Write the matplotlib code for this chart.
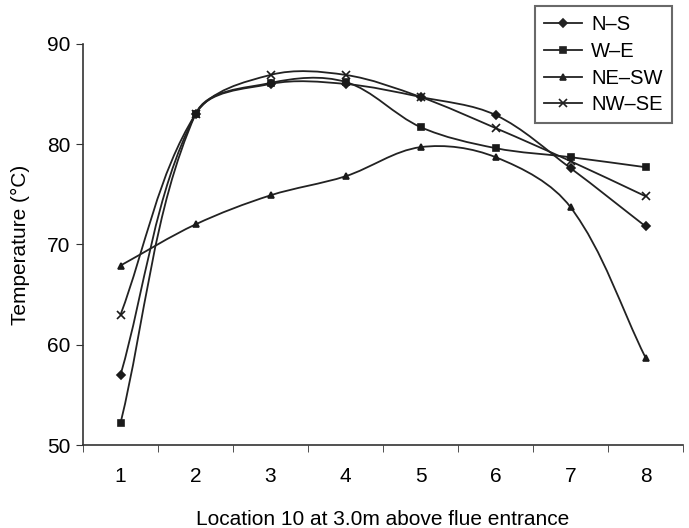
import numpy as np
import matplotlib.pyplot as plt
from matplotlib.path import Path
from matplotlib.patches import PathPatch
from matplotlib.lines import Line2D

plt.rcParams['font.family'] = ['Liberation Sans', 'DejaVu Sans']

locations = [1, 2, 3, 4, 5, 6, 7, 8]
ns = [57.0, 83.0, 86.0, 86.0, 84.7, 82.9, 77.6, 71.8]
we = [52.2, 83.0, 86.1, 86.2, 81.7, 79.6, 78.7, 77.7]
nesw = [67.9, 72.0, 74.9, 76.8, 79.7, 78.7, 73.7, 58.7]
nwse = [63.0, 83.0, 86.9, 86.9, 84.7, 81.6, 78.3, 74.8]

names = ['N\u2013S', 'W\u2013E', 'NE\u2013SW', 'NW\u2013SE']
series = [ns, we, nesw, nwse]
markers = ['D', 's', '^', 'x']
msizes = [4.5, 5, 5, 6]

# rough pixel size of one x step and one degree, so the smoothing
# works on what the eye sees rather than raw data units
SX, SY = 75.0, 10.0


def smooth_path(x, y):
    # smoothed line: cubic bezier, tangents from neighbours,
    # handle length tied to the length of each segment
    p = np.column_stack([np.asarray(x, float) * SX, np.asarray(y, float) * SY])
    n = len(p)
    tang = np.zeros_like(p)
    for i in range(n):
        d = p[min(i + 1, n - 1)] - p[max(i - 1, 0)]
        tang[i] = d / np.hypot(*d)
    verts = [p[0]]
    codes = [Path.MOVETO]
    for i in range(n - 1):
        seg = np.hypot(*(p[i + 1] - p[i]))
        c1 = p[i] + tang[i] * seg / 3
        c2 = p[i + 1] - tang[i + 1] * seg / 3
        verts += [c1, c2, p[i + 1]]
        codes += [Path.CURVE4] * 3
    verts = np.array(verts) / [SX, SY]
    return Path(verts, codes)


fig = plt.figure(figsize=(6.89, 5.28), dpi=100)
ax = fig.add_axes([0.1205, 0.157, 0.871, 0.76])

for vals, m, ms in zip(series, markers, msizes):
    ax.add_patch(PathPatch(smooth_path(locations, vals), fill=False,
                           edgecolor='#222222', lw=1.3))
    ax.plot(locations, vals, linestyle='none', marker=m, ms=ms,
            color='#1a1a1a', mew=1.2)

ax.set_xlim(0.5, 8.5)
ax.set_ylim(50, 90)
ax.set_yticks([50, 60, 70, 80, 90])
ax.set_xticks(locations)
ax.set_xticks(np.arange(0.5, 8.6, 1), minor=True)
ax.tick_params(axis='x', which='major', length=0, pad=16, labelsize=15)
ax.tick_params(axis='x', which='minor', length=5, direction='out', color='#333333')
ax.tick_params(axis='y', length=5, direction='out', labelsize=15, pad=4,
               color='#333333')
for s in ['top', 'right']:
    ax.spines[s].set_visible(False)
for s in ['left', 'bottom']:
    ax.spines[s].set_color('#333333')
    ax.spines[s].set_linewidth(1.2)

ax.set_ylabel('Temperature (\u00b0C)', fontsize=15, labelpad=12)
ax.set_xlabel('Location 10 at 3.0m above flue entrance', fontsize=15, labelpad=17)

handles = [Line2D([], [], color='#222222', lw=1.3, marker=m, ms=ms, mew=1.2)
           for m, ms in zip(markers, msizes)]
leg = fig.legend(handles, names, loc='upper left', bbox_to_anchor=(0.776, 0.988),
                 fontsize=14.5, frameon=True, fancybox=False, handlelength=1.9,
                 handletextpad=0.45, labelspacing=0.38, borderpad=0.45,
                 borderaxespad=0)
leg.get_frame().set_edgecolor('#444444')
leg.get_frame().set_linewidth(1.5)

fig.savefig('out.png', dpi=100)
